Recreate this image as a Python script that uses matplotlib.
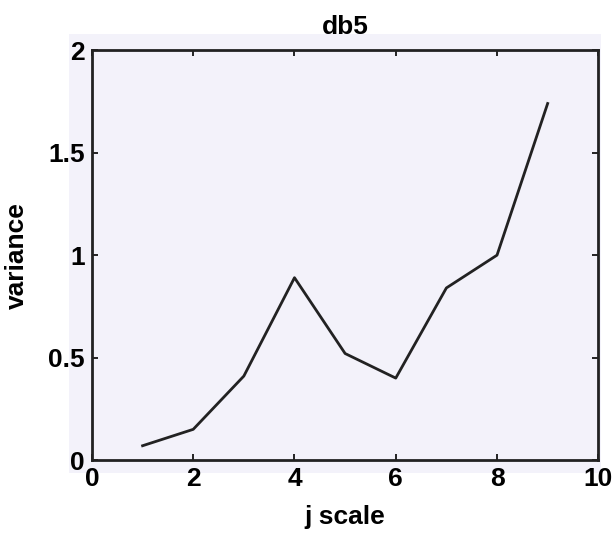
import matplotlib
matplotlib.use("Agg")
import matplotlib.pyplot as plt
from matplotlib.patches import Rectangle

# variance per wavelet scale (db5)
j_scale = [1, 2, 3, 4, 5, 6, 7, 8, 9]
variance = [0.07, 0.15, 0.41, 0.89, 0.52, 0.40, 0.84, 1.00, 1.74]

xticks = [0, 2, 4, 6, 8, 10]
yticks = [0, 0.5, 1, 1.5, 2]
ytick_labels = ["0", "0.5", "1", "1.5", "2"]

plt.rcParams["font.family"] = ["Liberation Sans", "DejaVu Sans"]
plt.rcParams["font.weight"] = "bold"

fig = plt.figure(figsize=(6.13, 5.40), dpi=100)
fig.patch.set_facecolor("white")
# scanned page tint behind the plot
fig.patches.append(Rectangle((0.113, 0.125), 0.868, 0.812, transform=fig.transFigure,
                             facecolor="#f3f2fa", edgecolor="none", zorder=-5))

ax = fig.add_axes([0.150, 0.148, 0.826, 0.759])
ax.set_zorder(1)
ax.set_facecolor("#f3f2fa")
ax.plot(j_scale, variance, color="#222222", lw=2)

ax.set_xlim(0, 10)
ax.set_ylim(0, 2)
ax.set_xticks(xticks)
ax.set_yticks(yticks)
ax.set_yticklabels(ytick_labels)
ax.tick_params(direction="in", length=4, width=1.2, labelsize=19, top=True, right=True, pad=5)
for s in ax.spines.values():
    s.set_linewidth(2)
    s.set_color("#222222")

ax.set_xlabel("j scale", fontsize=19, fontweight="bold", labelpad=10)
ax.set_ylabel("variance", fontsize=19, fontweight="bold", labelpad=14)
ax.set_title("db5", fontsize=19, fontweight="bold", pad=12)

fig.savefig("out.png", dpi=100)
